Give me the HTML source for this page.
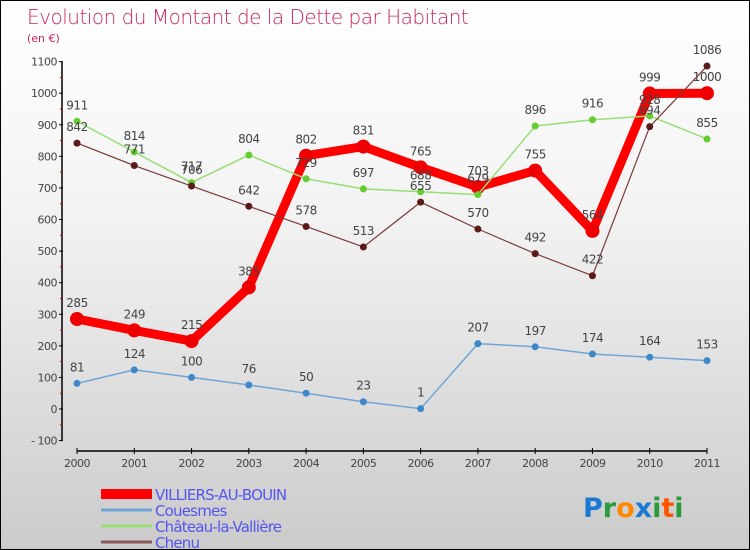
<!DOCTYPE html>
<html><head><meta charset="utf-8"><style>
body{margin:0;}
#c{width:750px;height:550px;position:relative;box-sizing:border-box;border:1px solid #000;background:linear-gradient(#fff 0%,#f2f2f2 40%,#cbcbcb 100%);font-family:"DejaVu Sans","Liberation Sans",sans-serif;overflow:hidden}
svg text{font-family:"DejaVu Sans","Liberation Sans",sans-serif}
</style></head><body>
<div id="c">
<svg id="s" width="750" height="550" xmlns="http://www.w3.org/2000/svg">
<text x="26" y="23" font-size="20" fill="#c8285a" font-weight="200" style="letter-spacing:-0.5px">Evolution du Montant de la Dette par Habitant</text>
<text x="26" y="41" font-size="11" fill="#c8285a">(en €)</text>
</svg>
</div>
<script>
const years=[2000,2001,2002,2003,2004,2005,2006,2007,2008,2009,2010,2011];
const yTicks=[-100,0,100,200,300,400,500,600,700,800,900,1000,1100];
const villiers=[285,249,215,385,802,831,765,703,755,564,999,1000];
const couesmes=[81,124,100,76,50,23,1,207,197,174,164,153];
const chateau=[911,814,717,804,729,697,688,679,896,916,928,855];
const chenu=[842,771,706,642,578,513,655,570,492,422,894,1086];
const names=["VILLIERS-AU-BOUIN","Couesmes","Château-la-Vallière","Chenu"];
const svg=document.getElementById('s');const NS='http://www.w3.org/2000/svg';
function x(i){return 76+i*(630/11);}
function y(v){return 408-v*0.3158;}
function mk(t,a,p){const e=document.createElementNS(NS,t);for(const k in a)e.setAttribute(k,a[k]);(p||svg).appendChild(e);return e;}
// axes
let ax=mk('line',{x1:61,y1:y(1100),x2:61,y2:y(-100),stroke:'#000','stroke-width':1.5});


yTicks.forEach((v,i)=>{
 mk('line',{x1:58,y1:y(v),x2:62,y2:y(v),stroke:'#000'});
 if(i<yTicks.length-1){let m=mk('line',{x1:59,y1:y(v+50),x2:61,y2:y(v+50),stroke:'#d00'});}
 let t=mk('text',{x:56,y:y(v)+4,'text-anchor':'end','font-size':11,fill:'#444','letter-spacing':'-0.5'});
 t.textContent=v<0?'- '+(-v):v;
 
 
});
let xa=mk('line',{x1:76,y1:450,x2:706,y2:450,stroke:'#000','stroke-width':1.5});


years.forEach((yr,i)=>{
 mk('line',{x1:x(i),y1:447,x2:x(i),y2:453,stroke:'#000'});
 let t=mk('text',{x:x(i),y:466,'text-anchor':'middle','font-size':11,fill:'#444','letter-spacing':'-0.5'});
 t.textContent=yr;
 
 
});
const series=[[villiers,'#ff0000',9,7,'#ee0000','villiers'],[couesmes,'#6fa6d6',1.5,3.5,'#3d88c8','couesmes'],[chateau,'#99dd77',1.5,3.5,'#66cc33','chateau'],[chenu,'#7a3a3a',1.2,3.5,'#5a1a1a','chenu']];
series.forEach(s=>{
 const [d,col,w,r,dc,nm]=s;
 let g=mk('g',{});
 
 
 let p=mk('polyline',{points:d.map((v,i)=>x(i)+','+y(v)).join(' '),fill:'none',stroke:col,'stroke-width':w,'stroke-linejoin':'round'},g);
 
 
 d.forEach((v,i)=>{
  let c=mk('circle',{cx:x(i),cy:y(v),r:r,fill:dc},g);
  
  
  let t=mk('text',{x:x(i),y:y(v)-12,'text-anchor':'middle','font-size':12,fill:'#444','letter-spacing':'-0.5'},g);
  t.textContent=v;
  
  
 });
});
// legend
const lc=['#ff0000','#6fa6d6','#99dd77','#8a5a5a'];
names.forEach((n,i)=>{
 const yy=493+i*16;
 let l=mk('rect',{x:100,y:yy-(i==0?5:1.5),width:51,height:i==0?10:3,fill:lc[i]});
 
 
 let t=mk('text',{x:154,y:yy+6,'font-size':15,fill:'#5555ee','letter-spacing':'-0.8'});
 t.textContent=n;
 
 
});
// logo
const logo=[['P','#1a7ad4'],['r','#2a9a3a'],['o','#ff8800'],['x','#1a7ad4'],['i','#2a9a3a'],['t','#ff5500'],['i','#2a9a3a']];
let lg=mk('text',{x:582,y:516,'font-size':27,'font-weight':'bold'});


logo.forEach(([ch,c])=>{let ts=mk('tspan',{fill:c},lg);ts.textContent=ch;});
</script>
</body></html>
